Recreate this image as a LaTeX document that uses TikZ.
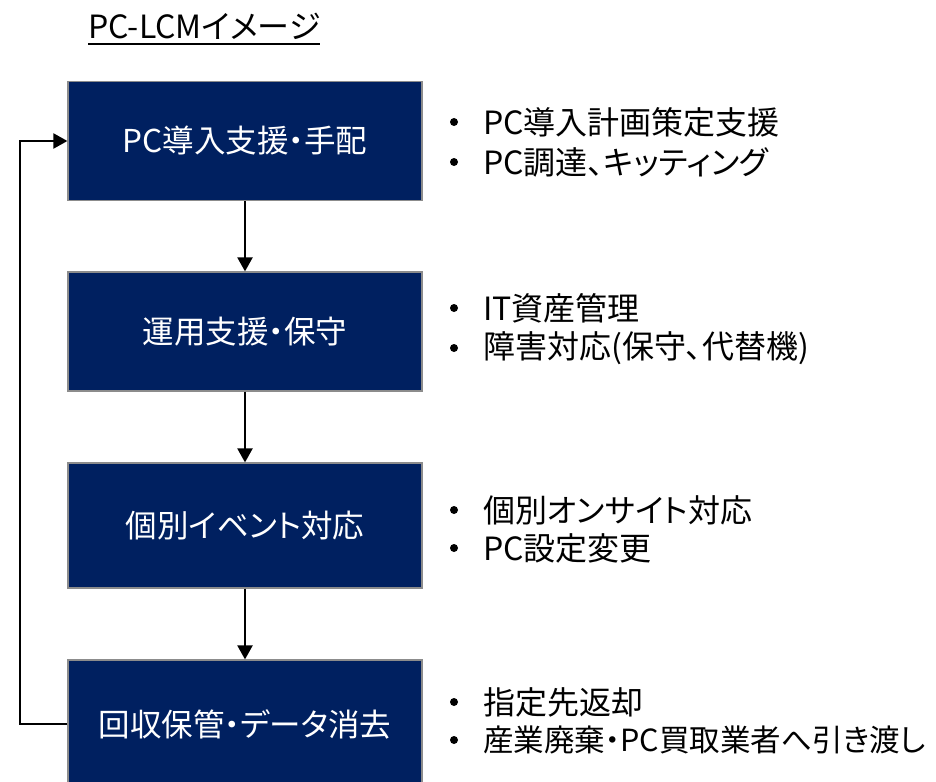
\documentclass[tikz,border=0pt]{standalone}
\usepackage{fontspec}
\setmainfont[RawFeature=+palt]{Noto Sans CJK JP}
\usetikzlibrary{arrows.meta}
\definecolor{navy}{HTML}{002060}
\definecolor{boxedge}{HTML}{8C8C8C}
\tikzset{
  stage/.style={draw=boxedge, line width=1.2pt, fill=navy, text=white, minimum width=354pt, inner sep=0pt, font=\fontsize{31.5}{34}\selectfont},
  flow/.style={line width=2.2pt, -{Triangle[width=15pt,length=14pt]}},
  bul/.style={circle, fill=black, minimum size=8pt, inner sep=0pt},
  item/.style={anchor=west, inner sep=0pt, font=\fontsize{32}{36}\selectfont},
}
\begin{document}
\begin{tikzpicture}[x=1pt,y=-1pt]
\useasboundingbox (0,0) rectangle (936,781);
\clip (0,0) rectangle (936,781);
% title
\node[anchor=base west, inner sep=0pt, font=\fontsize{32}{34}\selectfont] (title) at (88,39) {PC-LCMイメージ};
\draw[line width=1.8pt] ([yshift=-5pt]title.base west) -- ([yshift=-5pt]title.base east);
% boxes
\node[stage, minimum height=119pt] (b1) at (245,141) {PC導入支援・手配};
\node[stage, minimum height=119pt] (b2) at (245,331.5) {運用支援・保守};
\node[stage, minimum height=125pt] (b3) at (245,525.5) {個別イベント対応};
\node[stage, minimum height=128pt] (b4) at (245,724) {回収保管・データ消去};
% arrows
\draw[flow] (b1) -- (b2);
\draw[flow] (b2) -- (b3);
\draw[flow] (b3) -- (b4);
\coordinate (lb) at (20,724);
\coordinate (lt) at (20,141);
\draw[flow] (b4.west) -- (lb) -- (lt) -- (b1.west);
% bullets
\node[bul] (d1a) at (454,122) {};
\node[item] (t1a) at (483,122) {PC導入計画策定支援};
\node[bul] (d1b) at (454,162) {};
\node[item] (t1b) at (483,162) {PC調達、キッティング};
\node[bul] (d2a) at (454,308) {};
\node[item] (t2a) at (483,308) {IT資産管理};
\node[bul] (d2b) at (454,348) {};
\node[item] (t2b) at (483,348) {障害対応(保守、代替機)};
\node[bul] (d3a) at (454,510) {};
\node[item] (t3a) at (483,510) {個別オンサイト対応};
\node[bul] (d3b) at (454,548) {};
\node[item] (t3b) at (483,548) {PC設定変更};
\node[bul] (d4a) at (454,702) {};
\node[item] (t4a) at (483,702) {指定先返却};
\node[bul] (d4b) at (454,740) {};
\node[item, font=\fontsize{30.5}{36}\selectfont] (t4b) at (483,740) {産業廃棄・PC買取業者へ引き渡し};
\end{tikzpicture}
\end{document}
